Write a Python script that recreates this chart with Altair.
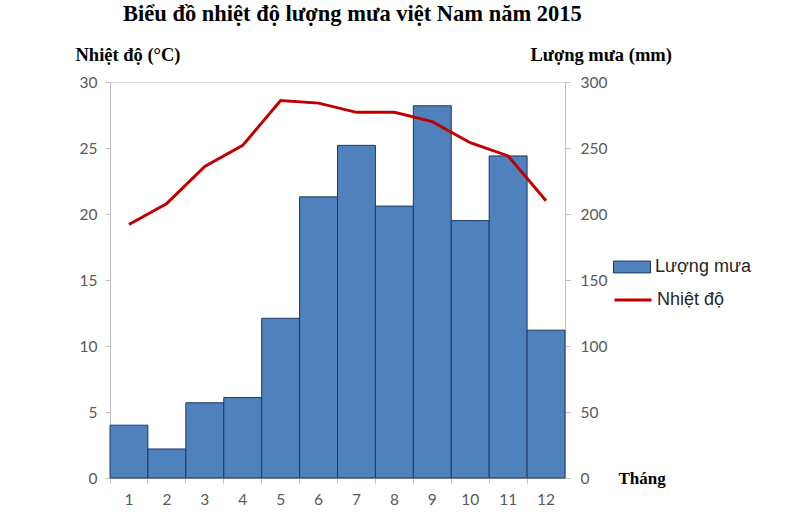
import altair as alt
import pandas as pd

months = [1, 2, 3, 4, 5, 6, 7, 8, 9, 10, 11, 12]
rain_mm = [40, 22, 57, 61, 121, 213, 252, 206, 282, 195, 244, 112]
temp_c = [19.2, 20.8, 23.6, 25.2, 28.6, 28.4, 27.7, 27.7, 27.0, 25.4, 24.4, 21.0]

df = pd.DataFrame({
    "Tháng": months,
    "rain": rain_mm,
    "temp": temp_c,
    "s_bar": ["Lượng mưa"] * 12,
    "s_line": ["Nhiệt độ"] * 12,
})

SERIF = "Liberation Serif"
SANS = "Lato"
LBL = "#595959"
AXC = "#bfbfbf"

x_enc = alt.X(
    "Tháng:O",
    scale=alt.Scale(paddingInner=0, paddingOuter=0),
    axis=alt.Axis(
        title="Tháng", titleAngle=0, titleX=508, titleY=0, titleAlign="left",
        titleBaseline="middle", titleFont=SERIF, titleFontSize=17, titleFontWeight="bold",
        titleColor="#000000", labelAngle=0, bandPosition=0, labelFont=SANS, labelFontSize=15.5,
        labelColor=LBL, labelPadding=9, tickSize=5, tickColor=AXC, domainColor=AXC,
    ),
)

bars = alt.Chart(df).mark_bar(stroke="#1f3864", strokeWidth=1, color="#4f81bd").encode(
    x=x_enc,
    y=alt.Y(
        "rain:Q",
        scale=alt.Scale(domain=[0, 300], nice=False),
        axis=alt.Axis(
            orient="right", values=[0, 50, 100, 150, 200, 250, 300], grid=False,
            title="Lượng mưa (mm)", titleAngle=0, titleX=-35, titleY=-28, titleAlign="left",
            titleBaseline="middle", titleFont=SERIF, titleFontSize=18.5, titleFontWeight="bold",
            titleColor="#000000", labelFont=SANS, labelFontSize=15.5, labelColor=LBL,
            labelPadding=10, tickSize=5, tickColor=AXC, domainColor=AXC,
        ),
    ),
    fill=alt.Fill(
        "s_bar:N", scale=alt.Scale(range=["#4f81bd"]),
        legend=alt.Legend(
            title=None, orient="none", legendX=503, legendY=166,
            symbolType="M-1,-0.32H1V0.32H-1Z", symbolSize=1369, symbolStrokeColor="#1f3864",
            symbolStrokeWidth=1, symbolOpacity=1, labelFont="Liberation Sans", labelFontSize=18,
            labelColor="#262626", labelOffset=4, padding=0,
        ),
    ),
)

line = alt.Chart(df).mark_line(strokeWidth=3, color="#c00000").encode(
    x=alt.X("Tháng:O"),
    y=alt.Y(
        "temp:Q",
        scale=alt.Scale(domain=[0, 30], nice=False),
        axis=alt.Axis(
            orient="left", values=[0, 5, 10, 15, 20, 25, 30], grid=False,
            title="Nhiệt độ (°C)", titleAngle=0, titleX=-35, titleY=-28, titleAlign="left",
            titleBaseline="middle", titleFont=SERIF, titleFontSize=18.5, titleFontWeight="bold",
            titleColor="#000000", labelFont=SANS, labelFontSize=15.5, labelColor=LBL,
            labelPadding=8, tickSize=5, tickColor=AXC, domainColor=AXC,
        ),
    ),
    stroke=alt.Stroke(
        "s_line:N", scale=alt.Scale(range=["#c00000"]),
        legend=alt.Legend(
            title=None, orient="none", legendX=503, legendY=198,
            symbolType="stroke", symbolSize=1369, symbolStrokeWidth=3,
            labelFont="Liberation Sans", labelFontSize=18, labelColor="#262626",
            labelOffset=4, padding=0,
        ),
    ),
)

chart = (
    alt.layer(bars, line)
    .resolve_scale(y="independent", fill="independent", stroke="independent")
    .properties(
        width=455,
        height=396,
        autosize=alt.AutoSizeParams(type="none"),
        padding={"left": 110, "top": 82, "right": 221, "bottom": 46},
        title=alt.TitleParams(
            text="Biểu đồ nhiệt độ lượng mưa việt Nam năm 2015", font=SERIF, fontSize=22.5,
            fontWeight="bold", color="#000000", anchor="start", frame="group", dx=13, offset=20,
        ),
    )
    .configure_view(stroke=None)
    .configure(background="white")
)

chart.save("out.html", embed_options={"renderer": "svg", "actions": False})
